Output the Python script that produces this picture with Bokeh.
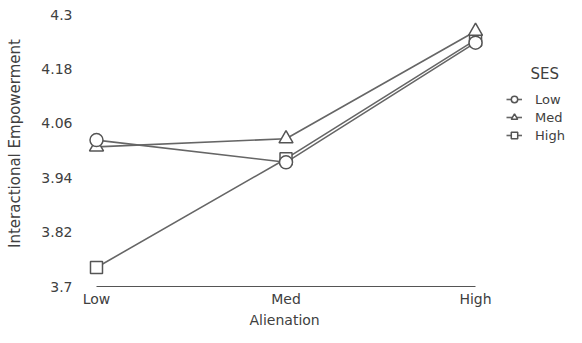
from bokeh.plotting import figure
from bokeh.models import Range1d, FixedTicker, Legend, LegendItem, Label, Title
from bokeh.embed import file_html
from bokeh.resources import INLINE

# ---- data ----
categories = ["Low", "Med", "High"]          # Alienation
ses_names = ["Low", "Med", "High"]           # SES groups
ses_low = [4.023, 3.974, 4.238]
ses_med = [4.008, 4.026, 4.263]
ses_high = [3.742, 3.982, 4.244]
y_ticks = [3.7, 3.82, 3.94, 4.06, 4.18, 4.3]
y_tick_labels = ["3.7", "3.82", "3.94", "4.06", "4.18", "4.3"]

x = list(range(len(categories)))

FONT = "DejaVu Sans"
TXT = "#404040"
LINE = "#666666"

p = figure(width=566, height=327, output_backend="svg", toolbar_location=None,
           x_range=Range1d(-0.0844, 2.480), y_range=Range1d(3.7, 4.331),
           min_border_left=80, min_border_right=0, min_border_top=0,
           min_border_bottom=0)
p.outline_line_color = None
p.xgrid.visible = False
p.ygrid.visible = False
p.background_fill_color = "white"
p.border_fill_color = "white"

# axes
p.xaxis.ticker = FixedTicker(ticks=x)
p.xaxis.major_label_overrides = {i: c for i, c in zip(x, categories)}
p.xaxis.bounds = (x[0], x[-1])
p.xaxis.axis_line_color = "#555555"
p.xaxis.axis_line_width = 1
p.xaxis.major_tick_line_color = None
p.xaxis.major_tick_out = 0
p.xaxis.major_tick_in = 0
p.xaxis.minor_tick_line_color = None
p.xaxis.minor_tick_out = 0
p.xaxis.major_label_standoff = 4
p.xaxis.major_label_text_font = FONT
p.xaxis.major_label_text_font_size = "14px"
p.xaxis.major_label_text_color = TXT

p.yaxis.ticker = FixedTicker(ticks=y_ticks)
p.yaxis.major_label_overrides = {t: l for t, l in zip(y_ticks, y_tick_labels)}
p.yaxis.axis_line_color = None
p.yaxis.major_tick_line_color = None
p.yaxis.major_tick_out = 0
p.yaxis.major_tick_in = 0
p.yaxis.minor_tick_line_color = None
p.yaxis.minor_tick_out = 0
p.yaxis.major_label_standoff = 8
p.yaxis.major_label_text_font = FONT
p.yaxis.major_label_text_font_size = "14px"
p.yaxis.major_label_text_color = TXT
p.yaxis.axis_label = "Interactional Empowerment"
p.yaxis.axis_label_text_font = FONT
p.yaxis.axis_label_text_font_size = "15px"
p.yaxis.axis_label_text_font_style = "normal"
p.yaxis.axis_label_text_color = TXT
p.yaxis.axis_label_standoff = 14

p.add_layout(Title(text="Alienation", align="left", offset=169, standoff=0,
                   text_font=FONT, text_font_size="14px", text_color=TXT,
                   text_font_style="normal"), "below")

# lines
l_low = p.line(x, ses_low, line_color=LINE, line_width=1.6)
l_med = p.line(x, ses_med, line_color=LINE, line_width=1.6)
l_high = p.line(x, ses_high, line_color=LINE, line_width=1.6)

# markers
m_high = p.scatter(x, ses_high, marker="square", size=12, fill_color="white",
                   line_color="#555555", line_width=1.5)
m_med = p.scatter(x, ses_med, marker="triangle", size=14, fill_color="white",
                  line_color="#555555", line_width=1.5)
m_low = p.scatter(x, ses_low, marker="circle", size=13, fill_color="white",
                  line_color="#555555", line_width=1.5)

legend = Legend(items=[
    LegendItem(label=ses_names[0], renderers=[l_low, m_low]),
    LegendItem(label=ses_names[1], renderers=[l_med, m_med]),
    LegendItem(label=ses_names[2], renderers=[l_high, m_high]),
], location=(426, 142))
legend.border_line_color = None
legend.background_fill_alpha = 0
legend.padding = 0
legend.margin = 0
legend.spacing = 0
legend.glyph_width = 16
legend.glyph_height = 18
legend.label_height = 18
legend.label_standoff = 13
legend.label_text_font = FONT
legend.label_text_font_size = "13px"
legend.label_text_color = TXT
p.add_layout(legend)

p.add_layout(Label(x=450, y=213, x_units="screen", y_units="screen",
                   text="SES", text_font=FONT, text_font_size="15px",
                   text_color=TXT, text_baseline="middle"))

open("out.html", "w").write(file_html(p, INLINE))
